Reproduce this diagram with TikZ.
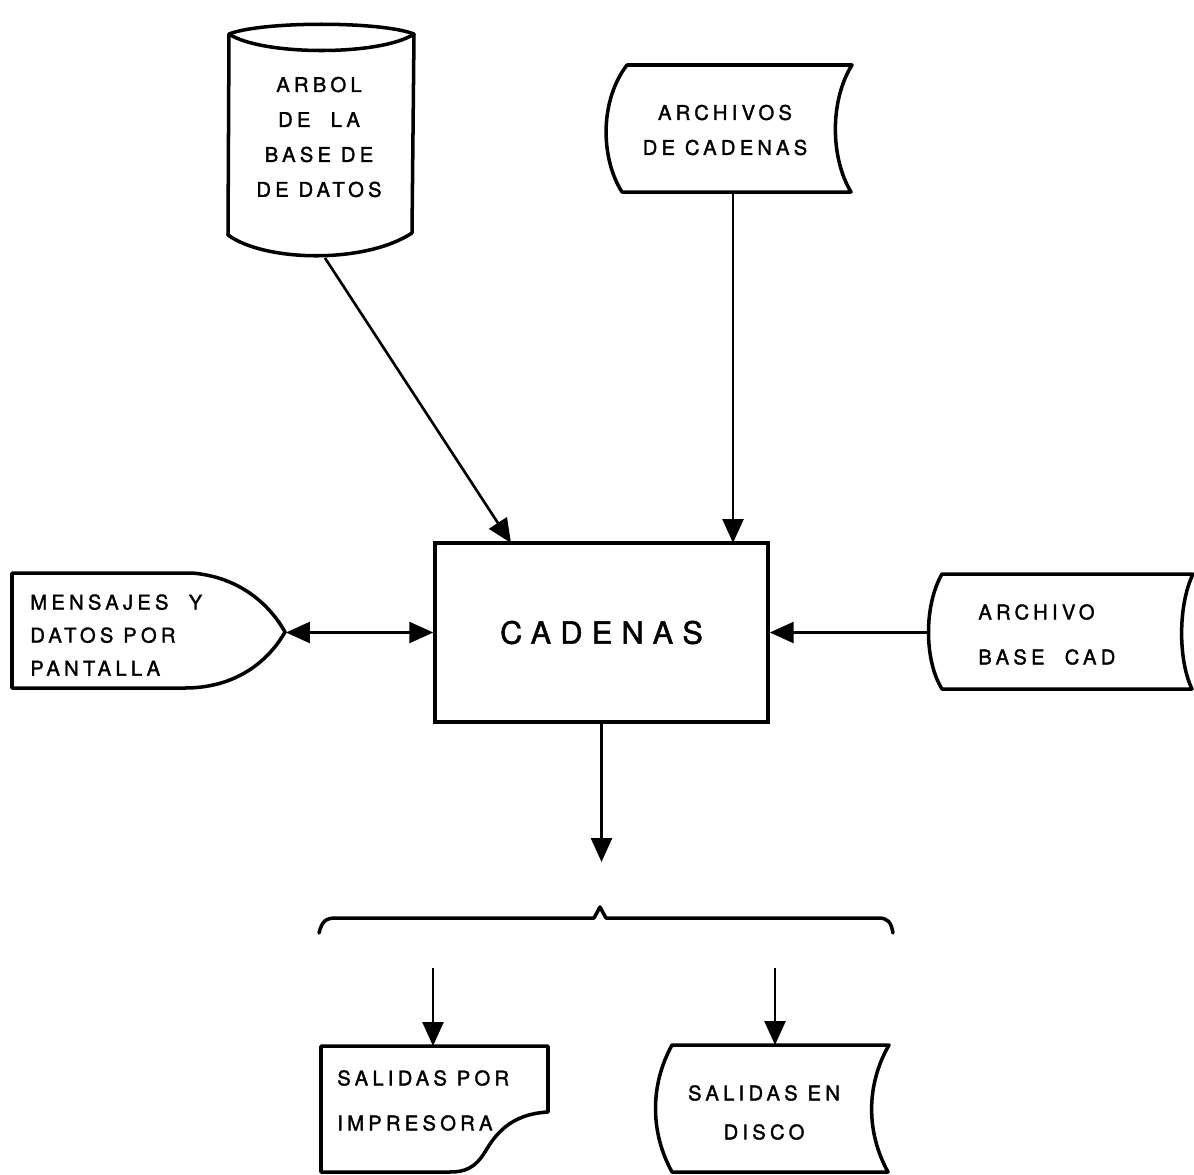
\documentclass[tikz,border=0pt]{standalone}
\usepackage{fontspec}
\newfontfamily\lbl[LetterSpace=21,FakeBold=1.6]{TeX Gyre Heros}
\newfontfamily\lblbig[LetterSpace=30,FakeBold=1.6]{TeX Gyre Heros}
\usetikzlibrary{arrows.meta}
\begin{document}
\begin{tikzpicture}[x=0.02cm,y=-0.02cm,
  shp/.style={line width=2pt, line join=round},
  con/.style={line width=1.5pt},
  tip/.style={-{Triangle[length=0.48cm,width=0.42cm]}},
  dtip/.style={{Triangle[length=0.48cm,width=0.42cm]}-{Triangle[length=0.48cm,width=0.42cm]}},
  txt/.style={font=\lbl\fontsize{11.5}{#1}\selectfont, inner sep=0pt},
  txt/.default=19.9pt,
]
\useasboundingbox (0,0) rectangle (1194,1174);

% ---- cylinder: ARBOL DE LA BASE DE DATOS
\draw[shp] (229,34) .. controls (262,21) and (381,21) .. (414,34)
  -- (412,233) .. controls (365,264) and (265,262) .. (228,235) -- cycle;
\draw[shp] (229,34) .. controls (262,56) and (381,56) .. (414,34);
\node[txt, align=center] (arbol) at (319,137) {ARBOL\\DE\quad LA\\BASE DE\\DE DATOS};
\coordinate (cylb) at (325,258);

% ---- stored data: ARCHIVOS DE CADENAS
\draw[shp] (627,65) -- (852,65) .. controls (830,100) and (830,157) .. (851,192)
  -- (622,192) .. controls (600,157) and (600,100) .. (627,65) -- cycle;
\node[txt, align=center] (arch) at (725,130) {ARCHIVOS\\DE CADENAS};
\coordinate (archb) at (733,192);

% ---- central process
\node[draw, line width=2pt, minimum width=6.66cm, minimum height=3.58cm,
      font=\lblbig\fontsize{17.5}{20}\selectfont] (cad) at (601.5,632.5) {CADENAS};
\coordinate (cadA) at (511,543);
\coordinate (cadB) at (733,543);

% ---- display: MENSAJES
\draw[shp] (12,573) -- (192,573) .. controls (240,577) and (270,605) .. (285,632)
  .. controls (268,662) and (235,688) .. (185,688) -- (12,688) -- cycle;
\node[txt=18.8pt, align=left, anchor=west] (msg) at (30,635) {MENSAJES\quad Y\\DATOS POR\\PANTALLA};
\coordinate (disptip) at (286,632.5);

% ---- stored data: ARCHIVO BASE CAD
\draw[shp] (942,574) -- (1193,574) .. controls (1178,605) and (1178,660) .. (1192,689)
  -- (942,689) .. controls (924,660) and (924,605) .. (942,574) -- cycle;
\node[txt=25.6pt, align=left, anchor=west] (abase) at (978,634.5) {ARCHIVO\\BASE\quad CAD};
\coordinate (abl) at (928,632.5);

% ---- brace
\coordinate (downend) at (601.5,862);
\draw[shp, line cap=round] (319,933) .. controls (322,921) and (326,918) .. (336,918)
  -- (594,918) -- (600,907) -- (606,918) -- (878,918)
  .. controls (888,918) and (891,922) .. (893,933);
\coordinate (brL) at (433,968);
\coordinate (brR) at (775,968);

% ---- document: SALIDAS POR IMPRESORA
\draw[shp] (321,1046) -- (548,1046) -- (548,1112)
  .. controls (510,1114) and (495,1135) .. (485,1152)
  .. controls (475,1168) and (465,1172) .. (450,1172) -- (321,1172) -- cycle;
\node[txt=25.6pt, align=left, anchor=west] (imp) at (337,1100.5) {SALIDAS POR\\IMPRESORA};
\coordinate (impt) at (433,1046);

% ---- stored data: SALIDAS EN DISCO
\draw[shp] (672,1045) -- (889,1045) .. controls (866,1085) and (866,1132) .. (888,1172)
  -- (672,1172) .. controls (650,1132) and (650,1085) .. (672,1045) -- cycle;
\node[txt=22.2pt, align=center] (disco) at (764,1112.5) {SALIDAS EN\\DISCO};
\coordinate (discot) at (775,1045);

% ---- connectors
\draw[con, tip] (cylb) -- (cadA);
\draw[con, tip] (archb) -- (cadB);
\draw[con, dtip] (disptip) -- (cad.west);
\draw[con, tip] (abl) -- (cad.east);
\draw[con, tip] (cad.south) -- (downend);
\draw[con, tip] (brL) -- (impt);
\draw[con, tip] (brR) -- (discot);
\end{tikzpicture}
\end{document}
